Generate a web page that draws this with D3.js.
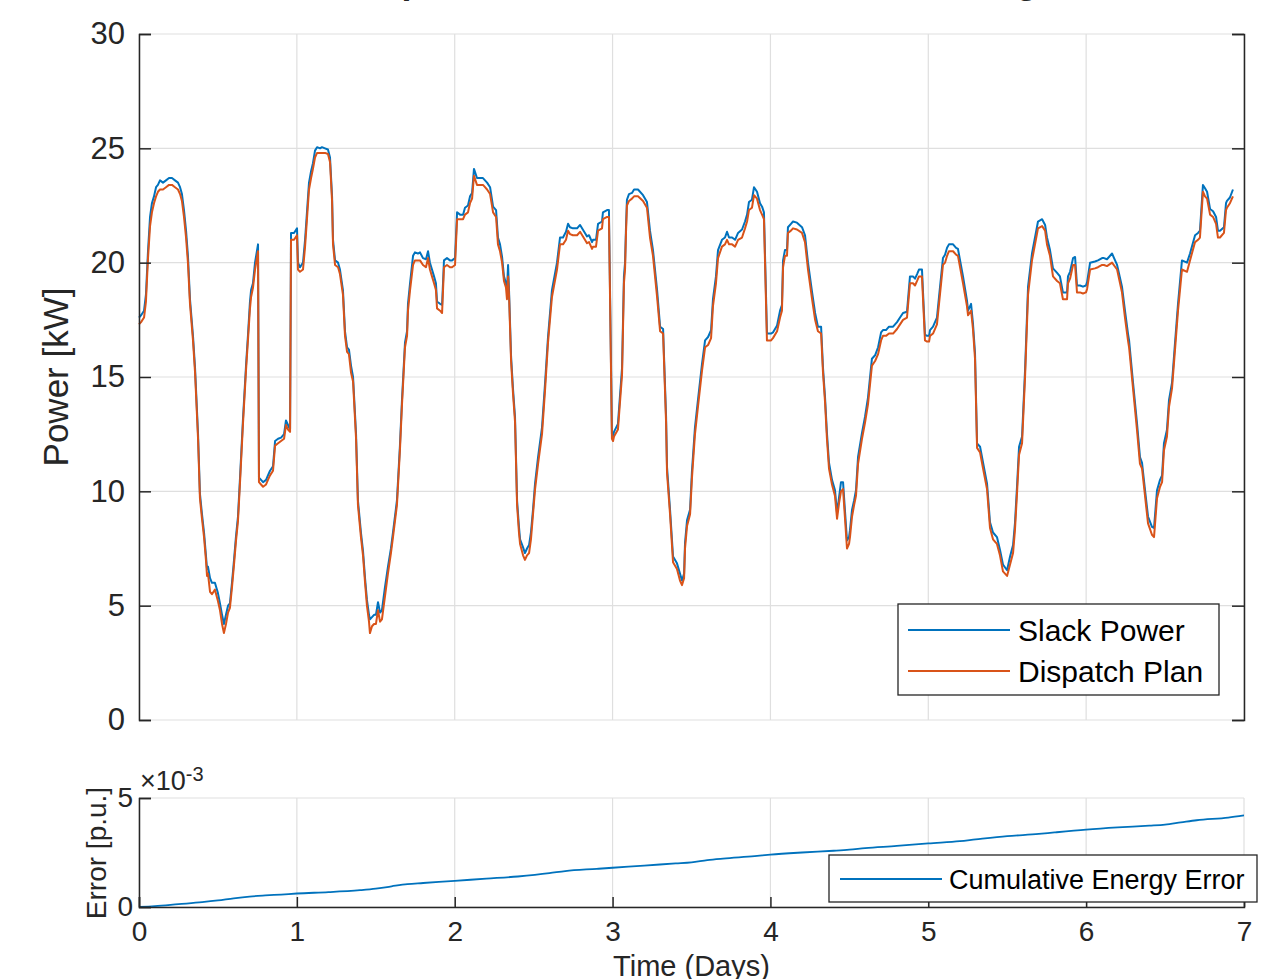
<!DOCTYPE html>
<html>
<head>
<meta charset="utf-8">
<script src="https://cdn.jsdelivr.net/npm/d3@7"></script>
<style>
  body { margin: 0; background: #fff; }
  svg { font-family: "Liberation Sans", Arial, sans-serif; }
</style>
</head>
<body>
<div id="chart"></div>
<script>
// Time axis (days) for the power traces
const timeDays = [0,0.013,0.032,0.044,0.057,0.070,0.082,0.095,0.108,0.120,0.133,0.152,0.171,0.190,0.209,0.228,0.247,0.260,0.272,0.285,0.298,0.310,0.323,0.342,0.355,0.374,0.386,0.399,0.412,0.424,0.431,0.437,0.450,0.462,0.481,0.500,0.513,0.526,0.538,0.551,0.564,0.576,0.589,0.602,0.614,0.627,0.640,0.659,0.678,0.691,0.703,0.710,0.722,0.735,0.754,0.760,0.773,0.786,0.805,0.817,0.830,0.849,0.862,0.881,0.900,0.919,0.931,0.944,0.957,0.963,0.982,1.001,1.007,1.020,1.039,1.052,1.064,1.077,1.090,1.102,1.115,1.128,1.147,1.159,1.178,1.197,1.210,1.223,1.229,1.242,1.261,1.273,1.292,1.305,1.318,1.330,1.343,1.356,1.375,1.387,1.406,1.419,1.432,1.444,1.457,1.463,1.476,1.489,1.501,1.514,1.527,1.539,1.558,1.577,1.596,1.609,1.634,1.653,1.666,1.685,1.698,1.704,1.717,1.736,1.748,1.767,1.780,1.799,1.818,1.831,1.843,1.856,1.869,1.881,1.888,1.907,1.920,1.932,1.951,1.970,1.983,2.002,2.015,2.034,2.053,2.065,2.084,2.097,2.110,2.122,2.141,2.160,2.179,2.192,2.205,2.224,2.243,2.262,2.274,2.287,2.300,2.312,2.325,2.331,2.338,2.344,2.357,2.369,2.382,2.395,2.407,2.414,2.433,2.445,2.458,2.471,2.483,2.496,2.509,2.528,2.553,2.572,2.591,2.616,2.648,2.667,2.686,2.705,2.718,2.730,2.749,2.775,2.794,2.825,2.838,2.851,2.870,2.876,2.895,2.908,2.933,2.939,2.965,2.977,2.996,3.003,3.009,3.034,3.060,3.072,3.079,3.085,3.091,3.104,3.123,3.136,3.161,3.193,3.218,3.237,3.256,3.282,3.301,3.320,3.339,3.345,3.364,3.383,3.408,3.427,3.440,3.453,3.459,3.472,3.491,3.503,3.522,3.541,3.567,3.586,3.605,3.624,3.636,3.655,3.668,3.693,3.712,3.725,3.738,3.757,3.776,3.795,3.820,3.839,3.852,3.864,3.883,3.896,3.915,3.934,3.947,3.959,3.978,3.997,4.004,4.016,4.042,4.061,4.073,4.080,4.092,4.105,4.111,4.130,4.143,4.168,4.200,4.219,4.238,4.264,4.283,4.301,4.321,4.333,4.346,4.358,4.371,4.390,4.409,4.422,4.435,4.447,4.460,4.485,4.498,4.504,4.517,4.530,4.542,4.555,4.580,4.599,4.618,4.643,4.663,4.682,4.701,4.713,4.732,4.751,4.777,4.802,4.821,4.840,4.865,4.884,4.903,4.916,4.929,4.941,4.960,4.979,4.992,5.005,5.011,5.030,5.055,5.068,5.093,5.106,5.119,5.131,5.157,5.176,5.188,5.220,5.245,5.252,5.271,5.283,5.296,5.309,5.328,5.347,5.372,5.391,5.410,5.435,5.454,5.473,5.499,5.518,5.537,5.549,5.562,5.575,5.594,5.613,5.632,5.657,5.676,5.695,5.721,5.740,5.752,5.771,5.790,5.816,5.834,5.853,5.866,5.879,5.885,5.898,5.917,5.930,5.942,5.961,5.980,5.999,6.006,6.025,6.056,6.075,6.101,6.113,6.132,6.164,6.196,6.227,6.246,6.265,6.272,6.297,6.322,6.341,6.354,6.373,6.392,6.417,6.430,6.449,6.468,6.481,6.493,6.512,6.525,6.544,6.563,6.582,6.607,6.639,6.658,6.690,6.709,6.721,6.740,6.753,6.766,6.785,6.804,6.823,6.835,6.848,6.873,6.886,6.892,6.911,6.930,6.943,6.962,6.987,7.000];

// Slack Power [kW]
const slackPower = [17.6,17.7,17.9,18.6,20.5,22.0,22.6,22.9,23.3,23.4,23.6,23.5,23.6,23.7,23.7,23.6,23.5,23.3,23.0,22.3,21.4,20.3,18.4,16.8,15.4,12.5,9.9,9.0,8.2,7.2,6.6,6.7,6.2,6.0,6.0,5.55,5.1,4.6,4.2,4.6,5.0,5.1,6.0,7.0,8.0,8.9,10.6,13.2,15.5,16.9,18.3,18.8,19.1,20.0,20.8,10.6,10.5,10.4,10.5,10.7,10.9,11.1,12.2,12.3,12.35,12.5,13.1,12.9,12.7,21.3,21.3,21.5,20.0,19.8,20.0,21.0,22.2,23.5,24.0,24.35,24.9,25.05,25.0,25.05,25.0,24.95,24.6,22.9,21.0,20.1,20.0,19.7,18.8,17.0,16.3,16.2,15.5,15.0,12.5,9.6,8.2,7.4,6.2,5.25,4.6,4.4,4.5,4.6,4.6,5.15,4.7,4.8,5.8,6.7,7.5,8.2,9.6,12.0,14.0,16.5,17.0,18.2,19.1,20.3,20.45,20.4,20.45,20.2,20.15,20.5,20.0,19.7,19.4,19.1,18.3,18.2,18.15,20.1,20.2,20.1,20.1,20.2,22.2,22.1,22.1,22.4,22.5,22.9,23.05,24.1,23.7,23.7,23.7,23.6,23.5,23.3,22.45,22.3,21.1,20.8,20.25,19.4,19.1,18.8,19.9,18.8,15.9,14.5,13.25,9.6,8.45,7.9,7.55,7.3,7.5,7.65,8.2,9.2,10.35,11.5,12.8,14.7,16.75,18.8,20.0,21.1,21.1,21.35,21.7,21.55,21.5,21.5,21.65,21.3,21.15,21.2,20.9,21.0,21.0,21.7,21.8,22.2,22.3,22.3,12.5,12.4,12.6,12.95,15.4,19.4,20.0,21.55,22.75,23.0,23.05,23.2,23.2,22.95,22.65,21.4,20.55,18.8,17.2,17.1,13.25,11.05,9.2,7.15,6.85,6.4,6.1,6.4,7.75,8.75,9.2,10.9,12.8,14.0,15.6,16.6,16.75,17.05,18.4,19.4,20.55,21.0,21.1,21.35,21.1,21.1,21.0,21.3,21.45,21.8,22.1,22.65,22.75,23.3,23.1,22.6,22.45,22.2,16.9,16.9,16.9,16.95,17.25,17.9,18.15,20.1,20.55,20.55,21.55,21.7,21.8,21.75,21.55,21.2,20.0,18.7,17.8,17.2,17.2,15.4,14.1,12.55,11.25,10.5,10.05,9.05,9.75,10.4,10.4,7.85,8.0,8.3,9.2,9.6,10.05,11.5,12.55,13.25,14.1,15.8,15.95,16.3,16.95,17.05,17.05,17.2,17.2,17.4,17.6,17.8,17.85,19.4,19.4,19.3,19.5,19.7,19.7,16.85,16.8,16.8,17.05,17.2,17.6,18.5,20.2,20.35,20.65,20.8,20.8,20.65,20.6,19.4,18.35,17.9,18.2,17.35,16.05,12.1,11.95,11.25,10.35,8.65,8.2,8.0,7.45,6.8,6.55,7.15,7.65,8.6,10.2,11.95,12.4,15.3,18.95,20.4,21.1,21.8,21.9,21.65,21.1,20.55,19.75,19.55,19.4,18.7,18.7,18.7,19.4,19.6,20.2,20.25,19.0,19.0,18.95,19.0,19.15,20.0,20.05,20.1,20.2,20.2,20.15,20.4,19.9,18.95,17.9,16.9,16.6,14.75,13.0,11.5,11.25,10.05,8.9,8.45,8.4,10.05,10.5,10.7,12.1,12.7,14.0,14.75,16.5,18.2,20.1,20.0,20.4,21.2,21.3,21.4,23.4,23.25,23.1,22.35,22.25,22.0,21.4,21.4,21.55,22.6,22.7,22.85,23.2];

// Dispatch Plan [kW]
const dispatchPlan = [17.3,17.4,17.6,18.3,20.2,21.6,22.2,22.6,22.9,23.1,23.2,23.2,23.3,23.4,23.4,23.3,23.2,23.0,22.7,22.0,21.1,20.0,18.2,16.6,15.2,12.3,9.7,8.8,8.0,7.0,6.3,6.4,5.6,5.5,5.7,5.2,4.8,4.2,3.8,4.2,4.7,4.9,5.8,6.8,7.8,8.7,10.4,13.0,15.3,16.7,18.0,18.5,18.9,19.7,20.5,10.4,10.3,10.2,10.3,10.5,10.7,10.9,12.0,12.1,12.2,12.3,12.9,12.7,12.6,21.0,21.0,21.2,19.7,19.6,19.7,20.7,21.9,23.2,23.7,24.1,24.6,24.8,24.8,24.8,24.8,24.75,24.4,22.7,20.8,19.9,19.8,19.5,18.6,16.8,16.1,16.0,15.2,14.8,12.3,9.4,8.0,7.2,6.0,5.0,4.3,3.8,4.1,4.2,4.2,4.8,4.3,4.4,5.4,6.4,7.3,8.0,9.4,11.8,13.8,16.3,16.8,17.9,18.8,19.9,20.1,20.1,20.1,19.9,19.8,20.2,19.7,19.4,19.1,18.8,18.0,17.9,17.8,19.8,19.9,19.8,19.8,19.9,21.9,21.9,21.9,22.1,22.2,22.6,22.8,23.8,23.4,23.4,23.4,23.3,23.2,23.0,22.2,22.0,20.8,20.5,20.0,19.2,18.9,18.4,19.4,18.6,15.7,14.3,13.05,9.4,8.2,7.7,7.2,7.0,7.2,7.3,7.9,9.0,10.1,11.2,12.5,14.4,16.5,18.5,19.7,20.8,20.8,21.0,21.4,21.25,21.2,21.2,21.35,21.0,20.85,20.9,20.6,20.7,20.7,21.4,21.5,21.9,22.0,22.0,12.3,12.2,12.4,12.7,15.1,19.1,19.7,21.3,22.5,22.7,22.8,22.9,22.9,22.7,22.4,21.1,20.3,18.5,17.0,16.9,13.0,10.8,9.0,6.9,6.6,6.1,5.9,6.2,7.5,8.5,9.0,10.6,12.5,13.7,15.3,16.3,16.4,16.7,18.1,19.1,20.2,20.7,20.8,21.0,20.8,20.8,20.7,21.0,21.1,21.5,21.8,22.3,22.4,22.95,22.8,22.3,22.1,21.9,16.6,16.6,16.6,16.7,17.0,17.6,17.9,19.8,20.3,20.3,21.3,21.4,21.5,21.45,21.3,20.9,19.7,18.4,17.5,17.0,16.9,15.2,13.9,12.3,11.0,10.3,9.8,8.8,9.5,10.0,10.1,7.5,7.7,8.0,8.9,9.4,9.8,11.2,12.3,13.0,13.8,15.5,15.7,16.0,16.6,16.8,16.8,16.9,16.9,17.1,17.3,17.5,17.6,19.1,19.1,19.0,19.2,19.4,19.4,16.6,16.55,16.55,16.8,16.9,17.3,18.2,19.9,20.0,20.3,20.5,20.5,20.35,20.3,19.1,18.1,17.7,17.9,17.1,15.8,11.9,11.7,11.0,10.1,8.4,7.9,7.7,7.2,6.5,6.3,6.8,7.3,8.3,9.9,11.6,12.1,15.0,18.6,20.1,20.8,21.5,21.6,21.4,20.8,20.3,19.4,19.2,19.1,18.4,18.4,18.4,19.1,19.3,19.9,19.9,18.7,18.7,18.65,18.7,18.85,19.7,19.75,19.8,19.9,19.9,19.85,20.0,19.7,18.7,17.6,16.6,16.3,14.5,12.7,11.2,11.0,9.8,8.6,8.1,8.0,9.7,10.2,10.4,11.8,12.4,13.7,14.5,16.2,17.9,19.7,19.6,20.1,20.9,21.0,21.1,23.1,22.9,22.8,22.1,22.0,21.7,21.1,21.1,21.3,22.3,22.4,22.6,22.9];

// Cumulative energy error [p.u., x 1e-3]
const errorDays = [0,0.1,0.25,0.4,0.5,0.6,0.7,0.8,0.9,1.0,1.2,1.4,1.5,1.6,1.7,1.8,2.0,2.2,2.4,2.6,2.7,2.9,3.0,3.2,3.4,3.5,3.6,3.7,3.9,4.0,4.2,4.4,4.5,4.6,4.8,5.0,5.2,5.3,5.5,5.7,5.8,6.0,6.2,6.4,6.5,6.6,6.7,6.9,7.0];
const cumError = [0,0.04,0.13,0.22,0.3,0.4,0.48,0.53,0.57,0.62,0.68,0.77,0.84,0.95,1.05,1.1,1.2,1.3,1.4,1.55,1.65,1.75,1.8,1.9,2.0,2.05,2.15,2.22,2.33,2.4,2.5,2.58,2.63,2.7,2.8,2.92,3.02,3.1,3.25,3.35,3.42,3.55,3.65,3.73,3.78,3.88,3.98,4.1,4.2];

const powerTicks = [0, 5, 10, 15, 20, 25, 30];
const dayTicks = [0, 1, 2, 3, 4, 5, 6, 7];
const errorTicks = [0, 5];

const W = 1263, H = 979;
const left = 139, right = 1244;
const axisColor = "#262626", gridColor = "#dfdfdf";
const blue = "#0072BD", orange = "#D95319";
const fontFam = "Liberation Sans, Arial, sans-serif";

const svg = d3.select("#chart").append("svg")
    .attr("width", W).attr("height", H);

// Title (clipped by the top of the picture)
svg.append("text")
    .attr("x", (left + right) / 2).attr("y", -7)
    .attr("text-anchor", "middle")
    .attr("font-size", 36).attr("font-weight", "bold")
    .attr("fill", axisColor)
    .text("Dispatch Plan and Slack Power Tracking");

const x = d3.scaleLinear().domain([0, 7]).range([left, right]);

// ---------- top panel ----------
const yP = d3.scaleLinear().domain([0, 30]).range([720, 34]);
const topG = svg.append("g");

// grid
topG.selectAll(".vg").data(dayTicks).join("line")
    .attr("x1", d => x(d)).attr("x2", d => x(d))
    .attr("y1", yP(0)).attr("y2", yP(30))
    .attr("stroke", gridColor).attr("stroke-width", 1.2);
topG.selectAll(".hg").data(powerTicks).join("line")
    .attr("x1", left).attr("x2", right)
    .attr("y1", d => yP(d)).attr("y2", d => yP(d))
    .attr("stroke", gridColor).attr("stroke-width", 1.2);

// lines
const linePower = vals => d3.line()
    .x((d, i) => x(timeDays[i]))
    .y(d => yP(d))(vals);

topG.append("path").attr("d", linePower(slackPower))
    .attr("fill", "none").attr("stroke", blue).attr("stroke-width", 2)
    .attr("stroke-linejoin", "round");
topG.append("path").attr("d", linePower(dispatchPlan))
    .attr("fill", "none").attr("stroke", orange).attr("stroke-width", 2)
    .attr("stroke-linejoin", "round");

// left and right axes
topG.append("g")
    .attr("transform", `translate(${left},0)`)
    .call(d3.axisLeft(yP).tickValues(powerTicks).tickSize(-12).tickPadding(14).tickFormat(d3.format("d")))
    .call(g => g.selectAll("line").attr("stroke", axisColor).attr("stroke-width", 1.5))
    .call(g => g.select(".domain").attr("stroke", axisColor).attr("stroke-width", 1.5))
    .call(g => g.selectAll("text").attr("font-size", 31).attr("fill", axisColor)
        .attr("font-family", fontFam));
topG.append("g")
    .attr("transform", `translate(${right},0)`)
    .call(d3.axisRight(yP).tickValues(powerTicks).tickSize(-12).tickFormat(""))
    .call(g => g.selectAll("line").attr("stroke", axisColor).attr("stroke-width", 1.5))
    .call(g => g.select(".domain").attr("stroke", axisColor).attr("stroke-width", 1.5));

topG.append("text")
    .attr("transform", "translate(68,377) rotate(-90)")
    .attr("text-anchor", "middle")
    .attr("font-size", 35).attr("fill", axisColor)
    .text("Power [kW]");

// legend
const lg = topG.append("g");
lg.append("rect").attr("x", 898).attr("y", 604).attr("width", 321).attr("height", 91)
    .attr("fill", "#fff").attr("stroke", axisColor).attr("stroke-width", 1.3);
[["Slack Power", blue, 630], ["Dispatch Plan", orange, 671]].forEach(([t, c, yy]) => {
    lg.append("line").attr("x1", 908).attr("x2", 1010).attr("y1", yy).attr("y2", yy)
        .attr("stroke", c).attr("stroke-width", 1.8);
    lg.append("text").attr("x", 1018).attr("y", yy + 11)
        .attr("font-size", 30).attr("fill", "#000").text(t);
});

// ---------- bottom panel ----------
const yE = d3.scaleLinear().domain([0, 5]).range([907, 798]);
const bot = svg.append("g");

bot.selectAll(".vg").data(dayTicks).join("line")
    .attr("x1", d => x(d)).attr("x2", d => x(d))
    .attr("y1", yE(0)).attr("y2", yE(5))
    .attr("stroke", gridColor).attr("stroke-width", 1.2);
bot.selectAll(".hg").data(errorTicks).join("line")
    .attr("x1", left).attr("x2", right)
    .attr("y1", d => yE(d)).attr("y2", d => yE(d))
    .attr("stroke", gridColor).attr("stroke-width", 1.2);

bot.append("path")
    .attr("d", d3.line().x((d, i) => x(errorDays[i])).y(d => yE(d)).curve(d3.curveMonotoneX)(cumError))
    .attr("fill", "none").attr("stroke", blue).attr("stroke-width", 1.8);

bot.append("g")
    .attr("transform", `translate(0,${yE(0)})`)
    .call(d3.axisBottom(x).tickValues(dayTicks).tickSize(-10).tickPadding(14).tickFormat(d3.format("d")))
    .call(g => g.selectAll("line").attr("stroke", axisColor).attr("stroke-width", 1.5))
    .call(g => g.select(".domain").attr("stroke", axisColor).attr("stroke-width", 1.5))
    .call(g => g.selectAll("text").attr("font-size", 28).attr("fill", axisColor)
        .attr("font-family", fontFam));
bot.append("g")
    .attr("transform", `translate(${left},0)`)
    .call(d3.axisLeft(yE).tickValues(errorTicks).tickSize(-12).tickPadding(6).tickFormat(d3.format("d")))
    .call(g => g.selectAll("line").attr("stroke", axisColor).attr("stroke-width", 1.5))
    .call(g => g.select(".domain").attr("stroke", axisColor).attr("stroke-width", 1.5))
    .call(g => g.selectAll("text").attr("font-size", 28).attr("fill", axisColor)
        .attr("font-family", fontFam));

// exponent label
const ex = bot.append("text").attr("x", 140).attr("y", 790)
    .attr("font-size", 27).attr("fill", axisColor);
ex.append("tspan").text("\u00d710");
ex.append("tspan").attr("dy", -9).attr("font-size", 20).text("-3");

bot.append("text")
    .attr("transform", "translate(106,853) rotate(-90)")
    .attr("text-anchor", "middle")
    .attr("font-size", 28).attr("fill", axisColor)
    .text("Error [p.u.]");

bot.append("text")
    .attr("x", (left + right) / 2).attr("y", 976)
    .attr("text-anchor", "middle")
    .attr("font-size", 29).attr("fill", axisColor)
    .text("Time (Days)");

const lg2 = bot.append("g");
lg2.append("rect").attr("x", 829).attr("y", 855).attr("width", 428).attr("height", 47)
    .attr("fill", "#fff").attr("stroke", axisColor).attr("stroke-width", 1.3);
lg2.append("line").attr("x1", 840).attr("x2", 942).attr("y1", 879).attr("y2", 879)
    .attr("stroke", blue).attr("stroke-width", 1.8);
lg2.append("text").attr("x", 949).attr("y", 889)
    .attr("font-size", 27).attr("fill", "#000").text("Cumulative Energy Error");
</script>
</body>
</html>
